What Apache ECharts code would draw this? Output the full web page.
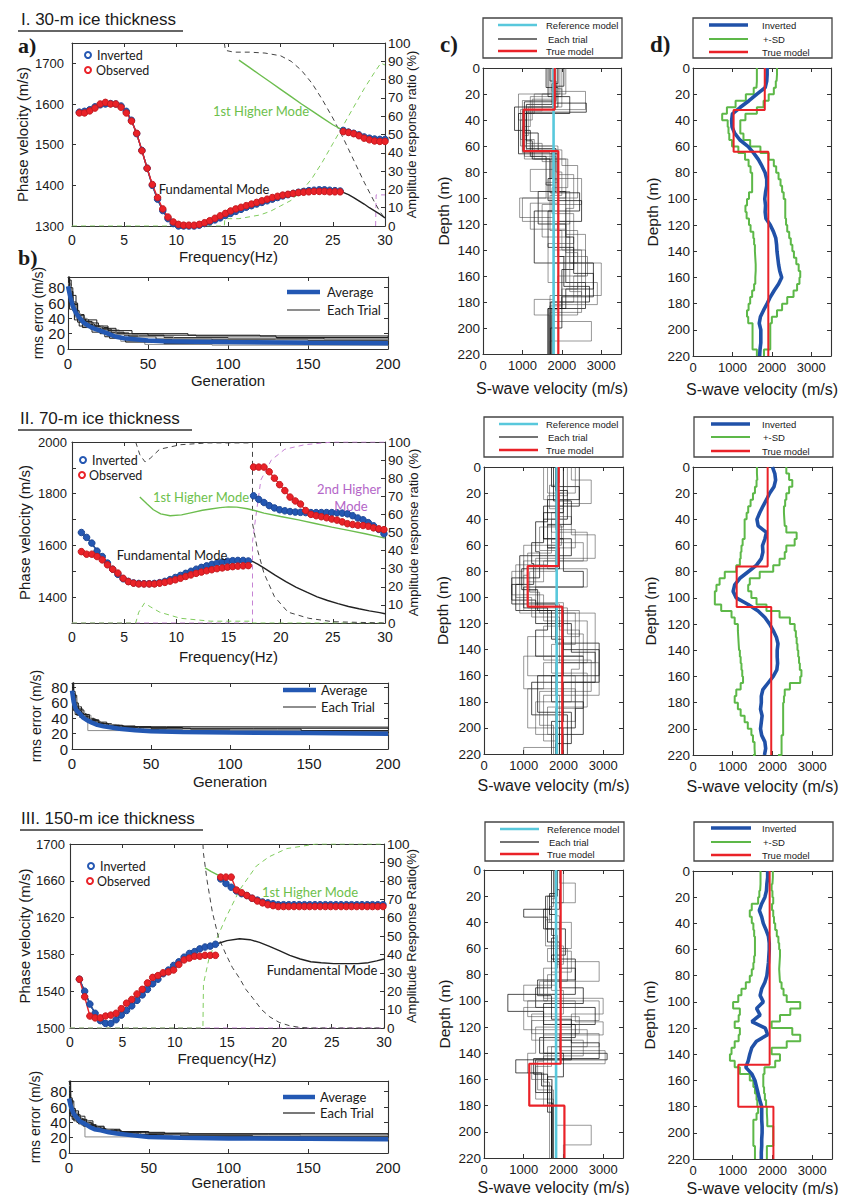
<!DOCTYPE html>
<html><head><meta charset="utf-8">
<script src="https://cdn.jsdelivr.net/npm/echarts@6/dist/echarts.min.js"></script>
<style>html,body{margin:0;padding:0;background:#fff}#c{width:848px;height:1195px}</style>
</head><body><div id="c"></div>
<script>
// ---------------- DATA ----------------
// Row I (30-m ice)
const freqI_F = [0.7,1.2,1.7,2.2,2.7,3.2,3.7,4.2,4.7,5.2,5.7,6.2,6.7,7.2,7.7,8.2,8.7,9.2,9.7,10.2,10.7,11.2,11.7,12.2,12.7,13.2,13.7,14.2,14.7,15.2,15.7,16.2,16.7,17.2,17.7,18.2,18.7,19.2,19.7,20.2,20.7,21.2,21.7,22.2,22.7,23.2,23.7,24.2,24.7,25.2,25.7];
const obsI_F = [1578,1578,1583,1590,1600,1604,1600,1600,1592,1578,1558,1528,1485,1442,1402,1370,1342,1322,1310,1304,1302,1302,1302,1304,1308,1313,1319,1325,1331,1337,1342,1346,1350,1354,1358,1362,1366,1370,1373,1376,1378,1380,1382,1383,1384,1385,1385,1385,1384,1384,1384];
const invI_F = [1580,1582,1586,1593,1598,1600,1601,1600,1595,1582,1560,1527,1486,1442,1400,1366,1338,1318,1306,1300,1300,1300,1300,1302,1306,1310,1315,1320,1326,1331,1336,1341,1346,1350,1354,1358,1362,1366,1370,1374,1377,1380,1383,1385,1387,1388,1389,1389,1388,1387,1386];
const freqI_H = [26.0,26.5,27.0,27.5,28.0,28.5,29.0,29.5,30.0];
const obsI_H = [1532,1530,1527,1522,1516,1512,1509,1508,1508];
const invI_H = [1535,1531,1528,1524,1519,1516,1514,1513,1513];
const fundI_ext = [[26.5,1377],[27,1370],[27.5,1362],[28,1354],[28.5,1345],[29,1337],[29.5,1329],[30,1320]];
const high1I = [[16,1708],[17,1690],[18,1672],[19,1654],[20,1636],[21,1618],[22,1600],[23,1583],[24,1566],[25,1549],[26,1535],[27,1528],[28,1519],[29,1514],[30,1513]];
const ampI_fund = [[14.6,100],[14.7,96],[15.5,95],[17,95],[18.5,94.5],[20,93],[21,90],[22,85],[23,78],[24,69],[25,59],[26,48],[27,36],[28,24],[29,13],[29.5,8],[30,4]];
const ampI_high1 = [[0,0],[14.6,0],[14.65,4],[16,4],[18,6],[19,8],[20,11],[21,14],[22,19],[23,26],[24,35],[25,45],[26,55],[27,65],[28,75],[29,84],[29.6,89],[30,88]];
const ampI_high2 = [[29.1,0],[29.15,17],[30,17]];
const rmsAvgI = [[0,82],[1,72],[2,63],[3,56],[5,47],[7,41],[10,34],[13,30],[16,27],[20,24],[25,20],[30,16],[35,14],[40,13],[50,11],[60,10],[80,9.5],[100,9],[150,8],[200,7.5]];
const rmsTrialsI = [
 [[0,92],[1,75],[3,60],[6,45],[10,38],[18,28],[25,22],[35,18],[60,15],[100,14],[160,13],[200,13]],
 [[0,85],[2,62],[5,40],[9,33],[14,30],[22,25],[32,14],[45,10],[70,8],[120,7],[200,6]],
 [[0,78],[1,60],[4,45],[8,36],[12,30],[20,20],[28,15],[40,12],[65,10],[110,9],[200,9]],
 [[0,90],[2,70],[5,50],[7,38],[13,32],[17,27],[30,20],[50,18],[80,17],[130,15],[200,15]],
 [[0,70],[2,55],[4,42],[10,35],[16,25],[24,18],[33,10],[48,6],[90,5],[200,4]],
 [[0,88],[1,68],[3,52],[6,40],[11,34],[19,26],[27,21],[38,16],[55,13],[90,12],[150,11],[200,10]],
 [[0,75],[3,50],[6,35],[9,28],[15,22],[23,16],[35,12],[52,9],[100,8],[200,7]],
 [[0,82],[2,58],[5,46],[8,40],[12,28],[21,24],[30,19],[44,16],[66,14],[130,12],[200,11]],
 [[0,65],[1,52],[4,38],[7,30],[14,26],[20,22],[26,14],[36,9],[60,7],[200,6]],
 [[0,95],[1,80],[3,58],[6,44],[10,36],[15,30],[25,24],[40,20],[75,18],[120,17],[200,16]]
];
const trialsI = [
 [[0,1900],[12,1750],[28,1100],[62,1850],[95,1400],[120,2100],[165,2600],[185,1750]],
 [[0,1750],[18,2600],[32,950],[55,1300],[70,2100],[100,930],[115,1800],[140,2500],[175,1700]],
 [[0,2000],[22,1200],[45,1000],[65,1700],[85,2500],[105,1500],[130,2200],[150,3000],[175,1800],[195,2750],[210,1700]],
 [[0,1600],[15,1900],[30,800],[48,1200],[68,1600],[90,1800],[110,1300],[140,1300],[150,2800],[170,2100],[185,1650]],
 [[0,1850],[25,1000],[60,1800],[78,1200],[95,2200],[120,1800],[145,2650],[160,2300],[180,1700]],
 [[0,2100],[20,900],[40,1100],[63,2000],[75,2400],[100,1900],[125,2000],[140,2600],[165,2400],[190,1750]],
 [[0,1700],[10,1850],[26,1050],[50,1400],[64,1750],[85,1650],[102,2500],[118,1900],[145,2050],[168,2700],[180,1720]],
 [[0,1950],[20,1300],[35,1050],[70,2150],[92,1750],[112,2300],[135,1650],[165,2900],[182,1800]],
 [[0,1800],[30,1100],[58,1500],[72,1900],[88,1600],[100,1000],[118,2200],[150,1800],[178,1300],[190,1680]],
 [[0,1650],[22,2200],[35,900],[66,1900],[95,2100],[130,2300],[155,2000],[185,1650]],
 [[0,1900],[16,2000],[30,1150],[52,1050],[68,1850],[80,2000],[98,1700],[125,2400],[150,2200],[172,2500],[188,1700]],
 [[0,1820],[24,1250],[40,950],[60,1900],[82,2300],[108,2100],[128,2600],[160,1900],[186,1720]],
 [[0,2050],[14,1800],[27,2620],[34,1100],[56,1250],[70,1700],[96,2450],[110,1650],[138,2300],[158,2800],[176,2000],[200,1710]],
 [[0,1700],[20,1500],[33,1000],[64,1800],[86,1900],[104,1200],[124,2100],[142,2400],[170,2000],[183,1690]]
];
const refI = 1790;
const trueI = [[0,1820],[32,1030],[64,1910]];
const depthD = [0,5,10,15,20,25,30,35,40,45,50,55,60,65,70,75,80,85,90,95,100,105,110,115,120,125,130,135,140,145,150,155,160,165,170,175,180,185,190,195,200,205,210,215,220];
const invD_I = [1880,1880,1870,1830,1620,1420,1200,1000,980,990,1060,1190,1400,1540,1660,1750,1830,1870,1870,1840,1820,1840,1830,1850,1960,2040,2100,2120,2130,2150,2170,2200,2250,2170,2060,1960,1880,1790,1710,1680,1720,1720,1720,1700,1690];
const sdLo_I = [1620,1620,1610,1540,1340,1080,860,740,880,900,920,990,1150,1320,1410,1460,1500,1500,1500,1420,1370,1330,1360,1420,1460,1530,1550,1570,1580,1590,1590,1580,1580,1550,1500,1450,1410,1370,1400,1510,1510,1510,1510,1620,1620];
const sdHi_I = [2130,2120,2100,2050,1920,1790,1620,1330,1200,1200,1280,1450,1710,1920,2050,2110,2170,2220,2260,2300,2340,2340,2340,2360,2390,2440,2480,2520,2560,2620,2680,2720,2700,2640,2550,2390,2260,2130,2000,1960,1960,1960,1960,1800,1800];

// Row II (70-m ice)
const freqII_F = [0.9,1.4,1.9,2.4,2.9,3.4,3.9,4.4,4.9,5.4,5.9,6.4,6.9,7.4,7.9,8.4,8.9,9.4,9.9,10.4,10.9,11.4,11.9,12.4,12.9,13.4,13.9,14.4,14.9,15.4,15.9,16.4,16.9];
const obsII_F = [1576,1566,1566,1557,1544,1525,1508,1493,1473,1460,1454,1451,1451,1451,1451,1454,1457,1462,1467,1473,1480,1486,1492,1497,1502,1506,1510,1513,1516,1518,1520,1521,1522];
const invII_F = [1650,1631,1609,1578,1557,1532,1508,1488,1471,1461,1455,1453,1452,1452,1453,1456,1461,1468,1476,1484,1492,1500,1508,1515,1521,1527,1532,1536,1539,1541,1542,1542,1540];
const freqII_H = [17.4,17.9,18.4,18.9,19.4,19.9,20.4,20.9,21.4,21.9,22.4,22.9,23.4,23.9,24.4,24.9,25.4,25.9,26.4,26.9,27.4,27.9,28.4,28.9,29.4,29.9];
const obsII_H = [1903,1903,1903,1885,1860,1835,1812,1787,1772,1760,1735,1720,1715,1711,1707,1702,1698,1691,1684,1681,1678,1677,1674,1668,1664,1661];
const invII_H = [1792,1778,1766,1754,1745,1738,1734,1731,1729,1728,1727,1727,1727,1727,1727,1727,1726,1725,1722,1715,1706,1699,1688,1676,1662,1645];
const fundII_ext = [[17.3,1538],[17.8,1528],[18.5,1510],[19.5,1484],[20.5,1460],[21.5,1438],[22.5,1419],[23.5,1401],[24.5,1387],[25.5,1375],[26.5,1364],[27.5,1355],[28.5,1347],[29.5,1340],[30,1336]];
const high1II = [[6.5,1787],[7.2,1760],[7.8,1738],[8.5,1722],[9.4,1715],[10.5,1718],[11.6,1728],[12.5,1736],[13.3,1741],[14.2,1746],[15,1749],[15.8,1748],[16.8,1742],[17.5,1735],[18.4,1725],[20,1712],[21.7,1699],[23.3,1685],[24.9,1671],[26.5,1658],[28.1,1645],[30,1628]];
const ampII_fund = [[6.1,100],[6.5,93],[7,89],[7.5,91],[8.4,96],[10.4,98.5],[13,99.5],[17.3,99.5],[17.3,55],[17.8,40],[18.4,27.5],[19.4,14.6],[20.7,6],[22.7,2.6],[25,0.7],[30,0]];
const ampII_high1 = [[0,0],[6.1,0],[6.4,6],[6.95,11],[7.5,9],[8.4,6],[10.4,2.6],[13.3,1],[17.3,1],[17.3,0],[30,0]];
const ampII_high2 = [[0,0],[17.3,0],[17.3,45],[17.6,58],[18.1,79],[19.1,90],[20.4,96],[22.3,98.5],[25,100],[30,100]];
const rmsAvgII = [[0,76],[1,62],[2,54],[3,50],[5,46],[7,41],[10,37],[13,34],[16,31.5],[20,29.5],[25,28],[30,26.5],[40,24.5],[50,23],[70,22],[100,21.5],[150,20.8],[200,20]];
const rmsTrialsII = [
 [[0,98],[1,70],[3,55],[6,45],[10,38],[16,33],[25,30],[40,28],[70,27],[115,27],[200,26]],
 [[0,60],[2,48],[5,42],[8,38],[10,24],[200,23]],
 [[0,85],[1,62],[3,52],[6,46],[9,40],[14,34],[20,31],[30,28],[45,25],[70,23],[120,22],[200,21]],
 [[0,72],[2,55],[4,47],[7,43],[11,38],[17,32],[24,28],[35,25],[55,22],[90,21],[150,20],[200,19]],
 [[0,90],[1,66],[3,56],[5,50],[8,44],[12,36],[18,32],[28,29],[42,27],[60,25],[100,24],[200,24]],
 [[0,55],[2,45],[5,41],[9,37],[13,33],[19,30],[27,27],[38,24],[52,22],[80,21],[200,20]],
 [[0,80],[1,58],[3,50],[6,43],[10,39],[15,35],[22,31],[32,29],[50,27],[75,26],[130,26],[145,24],[200,24]],
 [[0,66],[2,52],[4,45],[8,40],[12,35],[16,31],[26,26],[36,24],[48,22],[70,21],[200,18]],
 [[0,94],[1,75],[2,60],[4,52],[7,45],[11,37],[17,33],[23,30],[33,29],[60,28.5],[200,28]],
 [[0,62],[1,50],[3,44],[6,40],[9,36],[14,32],[20,29],[30,26],[44,23],[65,22],[200,21]]
];
const trialsII = [
 [[0,1700],[15,2400],[30,1500],[55,2200],[68,900],[90,800],[110,2000],[140,2900],[165,1200],[190,2100]],
 [[0,2100],[22,1600],[45,1900],[60,1000],[80,700],[98,1500],[118,2600],[150,1800],[175,1900],[200,1800]],
 [[0,1900],[12,1800],[38,2200],[52,2800],[70,1300],[95,1100],[108,2100],[128,2500],[145,1000],[170,2300],[195,1900]],
 [[0,2400],[25,1600],[42,1300],[65,1400],[85,700],[105,1800],[135,2900],[160,1700],[180,2500],[205,1850]],
 [[0,1600],[20,2000],[35,1700],[50,2600],[72,1000],[90,900],[112,2800],[150,1500],[170,1100],[200,2000]],
 [[0,2000],[30,1800],[48,2300],[62,1600],[78,2600],[92,1300],[105,1900],[125,2400],[155,2200],[180,1300],[205,1900]],
 [[0,1800],[18,2100],[40,1500],[58,1200],[74,1250],[90,700],[102,1300],[120,2200],[142,2800],[165,2000],[195,1700]],
 [[0,2200],[10,2700],[28,2000],[55,1700],[66,1100],[83,1000],[110,2400],[130,1100],[160,2300],[185,1800],[215,1000]],
 [[0,1500],[25,1900],[45,1950],[60,1600],[75,800],[100,1200],[115,1900],[150,2900],[175,1500],[210,1850]],
 [[0,2000],[35,1500],[55,2000],[80,2500],[92,1000],[108,1600],[125,1300],[145,2500],[185,2300],[200,1900]],
 [[0,1850],[14,1650],[32,2000],[46,1400],[64,1800],[80,1150],[96,1400],[112,2300],[136,1700],[158,2600],[184,1600],[205,2000]],
 [[0,2300],[20,1900],[40,1700],[58,2500],[72,1500],[88,1100],[104,2000],[122,1500],[148,2700],[172,1400],[198,1750]],
 [[0,1750],[26,2200],[44,1600],[62,1900],[78,950],[94,1350],[110,1700],[132,2000],[160,1350],[188,2200],[212,1800]]
];
const refII = 1830;
const trueII = [[0,1880],[76,1100],[107,1970]];
const invD_II = [2000,2060,2080,2040,1930,1850,1760,1680,1610,1640,1850,1810,1750,1760,1720,1600,1390,1180,1050,1010,1090,1390,1640,1810,1930,2020,2100,2140,2120,2120,2130,2110,2020,1890,1760,1720,1720,1700,1740,1720,1700,1730,1810,1830,1800];
const sdLo_II = [1610,1620,1600,1560,1510,1450,1390,1350,1300,1300,1300,1250,1220,1200,1180,1090,800,670,590,550,550,710,970,1050,1130,1140,1150,1160,1180,1200,1220,1240,1260,1200,1090,1050,1130,1200,1300,1380,1470,1510,1550,1560,1510];
const sdHi_II = [2350,2420,2500,2420,2350,2320,2290,2300,2310,2350,2610,2560,2350,2310,2180,2020,1680,1430,1390,1470,1600,1850,2180,2440,2560,2590,2610,2630,2650,2670,2690,2730,2700,2440,2310,2290,2270,2270,2270,2270,2270,2230,2230,2230,2140];

// Row III (150-m ice)
const freqIII_F = [0.9,1.4,1.9,2.4,2.9,3.4,3.9,4.4,4.9,5.4,5.9,6.4,6.9,7.4,7.9,8.4,8.9,9.4,9.9,10.4,10.9,11.4,11.9,12.4,12.9,13.4,13.9];
const obsIII_F = [1553,1534,1513,1511,1511,1513,1514,1516,1521,1527,1531,1537,1542,1549,1555,1557,1560,1561,1563,1569,1574,1576,1578,1578,1579,1579,1579];
const invIII_F = [1553,1540,1526,1516,1508,1505,1505,1509,1514,1519,1524,1530,1536,1542,1548,1553,1559,1563,1568,1572,1577,1581,1583,1586,1588,1589,1591];
const freqIII_H = [14.4,14.9,15.4,15.9,16.4,16.9,17.4,17.9,18.4,18.9,19.4,19.9,20.4,20.9,21.4,21.9,22.4,22.9,23.4,23.9,24.4,24.9,25.4,25.9,26.4,26.9,27.4,27.9,28.4,28.9,29.4,29.9];
const obsIII_H = [1664,1664,1664,1650,1647,1644,1641,1638,1636,1634,1633,1632,1632,1632,1632,1632,1632,1632,1632,1632,1632,1632,1632,1632,1632,1632,1632,1632,1632,1632,1632,1632];
const invIII_H = [1662,1657,1653,1649,1646,1644,1641,1639,1637,1636,1635,1634,1634,1634,1634,1634,1634,1634,1634,1634,1634,1634,1634,1634,1634,1634,1634,1634,1634,1634,1634,1634];
const fundIII_ext = [[15,1595],[16.2,1597],[17.2,1596],[18.1,1593],[19,1589],[20,1584],[21,1579],[22,1575],[23,1572],[24,1571],[25.2,1570],[26.5,1570],[27.5,1570],[28.5,1571],[29.3,1573],[30,1575]];
const high1III = [[12.9,1674],[13.5,1670],[14.2,1666],[14.4,1662],[14.9,1657],[15.4,1653],[15.9,1649],[16.4,1646],[16.9,1644],[17.4,1641],[17.9,1639],[18.4,1637],[18.9,1636],[19.9,1634],[30,1634]];
const ampIII_fund = [[12.7,100],[12.75,95],[13.1,80],[13.6,63],[14.2,49],[14.9,40],[15.5,33],[16.2,27],[16.8,21],[17.5,16],[18.3,10],[19.1,6],[20,3],[21,1.2],[22,0.3],[23,0],[30,0]];
const ampIII_high1 = [[0,0],[12.7,0],[12.75,24],[13.25,37],[13.9,47],[14.9,60],[16.2,75],[17.8,88],[19,93],[20.7,97.5],[23.5,100],[30,100]];
const ampIII_high2 = [[0,0],[30,0]];
const rmsAvgIII = [[0,71],[1,62],[2,56],[3,51],[5,46],[7,41],[10,38],[13,34],[16,31],[20,29.5],[25,27],[30,25.5],[40,23],[50,21],[70,20],[100,19],[150,18.5],[200,18]];
const rmsTrialsIII = [
 [[0,96],[1,68],[3,55],[6,48],[10,42],[15,35],[22,31],[32,28],[48,25],[70,23],[115,22],[200,22]],
 [[0,58],[2,45],[5,40],[8,36],[10,21],[200,20]],
 [[0,80],[1,60],[3,52],[6,45],[9,40],[14,34],[20,30],[30,27],[45,24],[70,21],[120,20],[200,19]],
 [[0,70],[2,55],[4,48],[7,43],[11,37],[17,31],[24,28],[35,24],[55,21],[90,19],[150,18],[200,17]],
 [[0,88],[1,64],[3,54],[5,48],[8,43],[12,36],[18,31],[28,28],[42,26],[60,24],[125,24],[145,22],[200,22]],
 [[0,52],[2,44],[5,40],[9,36],[13,32],[19,29],[27,26],[38,23],[52,21],[80,20],[200,19]],
 [[0,76],[1,57],[3,49],[6,43],[10,39],[15,34],[22,30],[32,28],[50,26],[75,25],[200,24]],
 [[0,64],[2,50],[4,44],[8,39],[12,34],[16,30],[26,25],[36,23],[48,21],[70,20],[200,17]],
 [[0,92],[1,72],[2,58],[4,50],[7,44],[11,36],[17,32],[23,29],[33,27],[60,25],[200,25]],
 [[0,60],[1,48],[3,42],[6,38],[9,35],[14,31],[20,28],[30,25],[44,22],[65,21],[200,20]]
];
const trialsIII = [
 [[0,1800],[15,1900],[30,1000],[36,1600],[55,1900],[75,2300],[95,600],[108,1500],[140,3100],[145,1300],[170,1700]],
 [[0,1750],[20,1600],[40,2200],[60,1600],[70,2900],[85,1500],[100,2900],[115,1200],[125,2900],[135,1600],[160,1700]],
 [[0,2000],[25,1700],[50,1850],[75,1500],[98,3000],[110,2200],[120,1300],[140,1100],[155,1500],[180,1800],[195,2700],[210,2000]],
 [[0,1700],[30,1500],[45,2050],[65,1700],[90,1300],[105,2800],[118,1800],[130,2200],[145,800],[155,1450],[165,1700]],
 [[0,1900],[10,2300],[25,1700],[50,1800],[80,1600],[100,1100],[112,2400],[125,1900],[138,3050],[148,1200],[160,1720]],
 [[0,1800],[35,1900],[60,2100],[85,1400],[95,1800],[105,1000],[122,2600],[135,1700],[150,1300],[175,1750]],
 [[0,1850],[20,1550],[45,1750],[70,1900],[90,2500],[102,1500],[118,2300],[128,1400],[140,2000],[158,1600],[185,1700]],
 [[0,1750],[28,1650],[40,1900],[62,2200],[78,1700],[92,2000],[110,1200],[130,2500],[142,1500],[162,1650]],
 [[0,1780],[22,1700],[38,1550],[58,2000],[72,1800],[88,1000],[100,2300],[116,3000],[126,1500],[146,1350],[168,1750]],
 [[0,1820],[18,1650],[34,1800],[52,1700],[68,2300],[84,1350],[96,1700],[114,2200],[132,2900],[144,1250],[156,1600],[178,1730]]
];
const refIII = 1815;
const trueIII = [[0,1930],[148,1140],[180,2025]];
const invD_III = [1880,1880,1860,1850,1810,1730,1670,1730,1770,1840,1900,1920,1920,1910,1900,1880,1860,1810,1730,1690,1770,1600,1690,1480,1820,1880,1600,1480,1430,1390,1330,1480,1560,1600,1640,1680,1730,1730,1730,1740,1740,1730,1730,1720,1720];
const sdLo_III = [1700,1700,1690,1670,1640,1480,1430,1480,1520,1540,1560,1560,1560,1540,1520,1480,1430,1330,1220,1140,1010,1180,1150,1050,1180,1150,1050,970,930,1050,1180,1430,1520,1560,1600,1620,1640,1600,1520,1520,1520,1520,1560,1560,1560];
const sdHi_III = [2010,2000,1980,2000,2020,1990,2020,2040,2070,2110,2150,2170,2190,2180,2170,2180,2190,2230,2280,2360,2700,2450,2190,1980,2500,2700,2360,1980,2190,2070,1800,1770,1770,1790,1810,1840,1860,1870,1870,2020,2020,2020,1860,1860,1860];

// ---------------- STYLE / LAYOUT ----------------
const FONT = 'Liberation Sans', LATO = 'Lato';
const AX = '#333', TXT = '#1a1a1a';
const C = {blue:'#2457b2', blueDk:'#1d4796', red:'#ea2228', redDk:'#c41a1f', green:'#6cbd4e', greenDash:'#80cc5e',
  mag:'#c682d4', magTxt:'#b466c8', cyan:'#58c8dc', sd:'#5db848', inv:'#2051a8', gray:'#555', avg:'#2358b3'};

const LAY = [
 { title:{text:'I. 30-m ice thickness', x:21, y:19, ul:[18,31,183]},
   a:{left:72, top:43, width:313, height:183, xGap:23, yGap:42, yMargin:8, rGap:20, rName:'Amplitude response ratio (%)'},
   b:{left:68, top:277, width:320, height:72, xGap:24, yGap:23, yMargin:3, ymax:94},
   c:{left:483, top:68, width:138, height:286, xGap:26, yGap:32},
   d:{left:693, top:68, width:138, height:288, xGap:25, yGap:33},
   legA:{inv:[88,55,97], obs:[88,70,96]},
   legB:{x1:287, x2:320, y1:292, y2:310, tx:327},
   legC:{box:[483,18,139,40], x1:498, x2:537, ys:[25,39,51], tx:546},
   legD:{box:[693,18,139,40], x1:709, x2:748, ys:[25,39,52], tx:762},
   modes:[{t:'1st Higher Mode', x:261, y:111, c:'green'}, {t:'Fundamental Mode', x:214, y:189, c:'black'}]
 },
 { title:{text:'II. 70-m ice thickness', x:20, y:418, ul:[18,430,192]},
   a:{left:72, top:442, width:313, height:181, xGap:26, yGap:40, yMargin:5, rGap:22, rName:'Amplitude response ratio (%)'},
   b:{left:72, top:683, width:316, height:66, xGap:25, yGap:29, yMargin:4, ymax:86},
   c:{left:484, top:467, width:139, height:287, xGap:23, yGap:34},
   d:{left:693, top:467, width:139, height:288, xGap:23, yGap:35},
   legA:{inv:[83,460,92], obs:[82,475,89]},
   legB:{x1:283, x2:316, y1:690, y2:707, tx:321},
   legC:{box:[484,417,139,40], x1:499, x2:538, ys:[424,437,450], tx:546},
   legD:{box:[694,417,139,40], x1:711, x2:750, ys:[424,437,451], tx:762},
   modes:[{t:'1st Higher Mode', x:201, y:497, c:'green'}, {t:'Fundamental Mode', x:172, y:555, c:'black'},
          {t:'2nd Higher', x:349, y:489, c:'mag'}, {t:'Mode', x:351, y:506, c:'mag'}]
 },
 { title:{text:'III. 150-m ice thickness', x:21, y:818, ul:[20,830,203]},
   a:{left:70, top:844, width:314, height:184, xGap:23, yGap:38, yMargin:5, rGap:21, rName:'Amplitude Response Ratio(%)'},
   b:{left:69, top:1081, width:319, height:72, xGap:22, yGap:27, yMargin:2, ymax:94},
   c:{left:484, top:870, width:139, height:288, xGap:21, yGap:32},
   d:{left:693, top:871, width:139, height:288, xGap:21, yGap:36},
   legA:{inv:[91,866,100], obs:[90,881,97]},
   legB:{x1:283, x2:315, y1:1097, y2:1113, tx:320},
   legC:{box:[485,822,139,39], x1:500, x2:539, ys:[829,842,854], tx:547},
   legD:{box:[694,822,139,39], x1:711, x2:751, ys:[828,842,855], tx:762},
   modes:[{t:'1st Higher Mode', x:310, y:892, c:'green'}, {t:'Fundamental Mode', x:322, y:970, c:'black'}]
 }
];

// ---------------- BUILD ----------------
const grid=[], xAxis=[], yAxis=[], series=[], graphic=[];
const pair = (xs, ys) => xs.map((x,i)=>[x, ys[i]]);
function G(p){ grid.push({left:p.left, top:p.top, width:p.width, height:p.height, containLabel:false, outerBoundsMode:'none', show:false}); return grid.length-1; }
function axis(gi, pos, min, max, interval, o){
  o = o || {};
  const a = {type:'value', gridIndex:gi, position:pos, min, max, interval, inverse:!!o.inverse, scale:false,
    axisLine:{show:true, onZero:false, lineStyle:{color:AX, width:1.1}},
    axisTick:{show:true, inside:true, length:4, lineStyle:{color:AX, width:1}},
    splitLine:{show:false}, minorTick:{show:false}, axisPointer:{show:false},
    axisLabel: o.label ? {show:true, color:TXT, fontFamily:FONT, fontSize:o.label.size||13, margin:(o.label.margin!=null?o.label.margin:6),
       showMaxLabel:o.label.showMax!==false, showMinLabel:true, hideOverlap:false,
       formatter: o.label.fmt || (v => String(v))} : {show:false}};
  if (o.name){ a.name=o.name; a.nameLocation='middle'; a.nameGap=o.gap; a.nameMoveOverlap=false;
    a.nameTextStyle={color:TXT, fontFamily:FONT, fontSize:o.nameSize||15}; }
  return a;
}
const addX = a => xAxis.push(a)-1, addY = a => yAxis.push(a)-1;
function line(xi, yi, data, ls, extra){ return Object.assign({type:'line', xAxisIndex:xi, yAxisIndex:yi, data, symbol:'none', lineStyle:ls, silent:true, z:2}, extra||{}); }
function markers(xi, yi, data, col, dk){ return {type:'line', xAxisIndex:xi, yAxisIndex:yi, data, symbol:'circle', symbolSize:6.5, showSymbol:true,
  itemStyle:{color:col, borderColor:dk, borderWidth:1}, lineStyle:{color:col, width:1.4}, silent:true, z:5}; }
const layered = m => m.map(([d,v])=>[v,d]).concat([[m[m.length-1][1], 220]]);

function panelA(p, D){
  const gi = G(p);
  const xb = addX(axis(gi,'bottom',0,30,5,{label:{size:14, margin:7}, name:'Frequency(Hz)', gap:p.xGap}));
  addX(axis(gi,'top',0,30,5,{}));
  const yl = addY(axis(gi,'left',D.ymin,D.ymax,D.yint,{label:{size:13, margin:p.yMargin, showMax:D.showMax, fmt:D.fmt}, name:'Phase velocity (m/s)', gap:p.yGap}));
  const yr = addY(axis(gi,'right',0,100,10,{label:{size:13.5, margin:3}, name:p.rName, gap:p.rGap, nameSize:13}));
  const dash = (data,color)=>line(xb,yr,data,{color, width:1, type:[5,4]},{z:1});
  series.push(dash(D.amp2, C.mag));
  series.push(dash(D.amp1, C.greenDash));
  series.push(dash(D.amp0, '#444'));
  series.push(line(xb,yl,pair(D.fF,D.iF).concat(D.fundExt),{color:'#222', width:1.4}));
  series.push(line(xb,yl,D.high1,{color:C.green, width:1.4}));
  series.push(markers(xb,yl,pair(D.fF,D.iF),C.blue,C.blueDk));
  series.push(markers(xb,yl,pair(D.fH,D.iH),C.blue,C.blueDk));
  series.push(markers(xb,yl,pair(D.fF,D.oF),C.red,C.redDk));
  series.push(markers(xb,yl,pair(D.fH,D.oH),C.red,C.redDk));
}
function panelB(p, avg, trials){
  const gi = G(p);
  const xb = addX(axis(gi,'bottom',0,200,50,{label:{size:15, margin:7}, name:'Generation', gap:p.xGap, nameSize:15}));
  addX(axis(gi,'top',0,200,50,{}));
  const yl = addY(axis(gi,'left',0,p.ymax,20,{label:{size:15, margin:p.yMargin, showMax:false}, name:'rms error (m/s)', gap:p.yGap, nameSize:14}));
  addY(axis(gi,'right',0,p.ymax,20,{}));
  trials.forEach((t,i)=>series.push(line(xb,yl,t,{color:(i%3===1)?'#8c8c8c':'#1e1e1e', width:1},{step:'end'})));
  series.push(line(xb,yl,avg,{color:C.avg, width:4.5},{z:4}));
}
function depthAxes(p){
  const gi = G(p);
  const xb = addX(axis(gi,'bottom',0,3500,1000,{label:{size:13, margin:5, showMax:false}, name:'S-wave velocity (m/s)', gap:p.xGap, nameSize:16}));
  addX(axis(gi,'top',0,3500,1000,{}));
  const yl = addY(axis(gi,'left',0,220,20,{inverse:true, label:{size:13.5, margin:3}, name:'Depth (m)', gap:p.yGap, nameSize:15.5}));
  addY(axis(gi,'right',0,220,20,{inverse:true}));
  return [xb, yl];
}
function panelC(p, trials, ref, truth){
  const [xb, yl] = depthAxes(p);
  trials.forEach((t,i)=>series.push(line(xb,yl,layered(t),{color:(i%3===0)?'rgba(20,20,20,0.75)':'rgba(70,70,70,0.55)', width:1},{step:'start'})));
  series.push(line(xb,yl,[[ref,0],[ref,220]],{color:C.cyan, width:2.6},{z:4}));
  series.push(line(xb,yl,layered(truth),{color:C.red, width:2.2},{step:'start', z:5}));
}
function panelD(p, inv, lo, hi, truth){
  const [xb, yl] = depthAxes(p);
  series.push(line(xb,yl,pair(lo,depthD),{color:C.sd, width:2},{step:'start'}));
  series.push(line(xb,yl,pair(hi,depthD),{color:C.sd, width:2},{step:'start'}));
  series.push(line(xb,yl,pair(inv,depthD),{color:C.inv, width:3.6},{z:4}));
  series.push(line(xb,yl,layered(truth),{color:C.red, width:2},{step:'start', z:5}));
}

const ROWS = [
 {A:{ymin:1300,ymax:1750,yint:100,showMax:false, fF:freqI_F,oF:obsI_F,iF:invI_F,fH:freqI_H,oH:obsI_H,iH:invI_H,fundExt:fundI_ext,high1:high1I,amp0:ampI_fund,amp1:ampI_high1,amp2:ampI_high2},
  B:[rmsAvgI, rmsTrialsI], Ct:[trialsI, refI, trueI], Dd:[invD_I, sdLo_I, sdHi_I, trueI]},
 {A:{ymin:1300,ymax:2000,yint:100,showMax:true, fmt:v=>(v%200===0?String(v):''), fF:freqII_F,oF:obsII_F,iF:invII_F,fH:freqII_H,oH:obsII_H,iH:invII_H,fundExt:fundII_ext,high1:high1II,amp0:ampII_fund,amp1:ampII_high1,amp2:ampII_high2},
  B:[rmsAvgII, rmsTrialsII], Ct:[trialsII, refII, trueII], Dd:[invD_II, sdLo_II, sdHi_II, trueII]},
 {A:{ymin:1500,ymax:1700,yint:40,showMax:true, fF:freqIII_F,oF:obsIII_F,iF:invIII_F,fH:freqIII_H,oH:obsIII_H,iH:invIII_H,fundExt:fundIII_ext,high1:high1III,amp0:ampIII_fund,amp1:ampIII_high1,amp2:ampIII_high2},
  B:[rmsAvgIII, rmsTrialsIII], Ct:[trialsIII, refIII, trueIII], Dd:[invD_III, sdLo_III, sdHi_III, trueIII]}
];

function T(text, x, y, font, fill, align){ graphic.push({type:'text', x, y, silent:true, z:100,
  style:{text, font, fill:fill||TXT, textAlign:align||'left', textVerticalAlign:'middle', align:align||'left', verticalAlign:'middle'}}); }
function Ln(x1,y1,x2,y2,stroke,w){ graphic.push({type:'line', silent:true, z:100, shape:{x1,y1,x2,y2}, style:{stroke, lineWidth:w}}); }
function Box(x,y,w,h){ graphic.push({type:'rect', silent:true, z:100, shape:{x,y,width:w,height:h}, style:{fill:'#fff', stroke:'#444', lineWidth:1.3}}); }
function Dot(cx,cy,col){ graphic.push({type:'circle', silent:true, z:101, shape:{cx,cy,r:3}, style:{fill:'#fff', stroke:col, lineWidth:2}}); }

LAY.forEach((L,ri)=>{
  const R = ROWS[ri];
  panelA(L.a, R.A);
  panelB(L.b, R.B[0], R.B[1]);
  panelC(L.c, R.Ct[0], R.Ct[1], R.Ct[2]);
  panelD(L.d, R.Dd[0], R.Dd[1], R.Dd[2], R.Dd[3]);
  T(L.title.text, L.title.x, L.title.y, "17px 'Liberation Sans'");
  Ln(L.title.ul[0], L.title.ul[1], L.title.ul[2], L.title.ul[1], '#333', 1.5);
  Dot(L.legA.inv[0], L.legA.inv[1], C.blue); T('Inverted', L.legA.inv[2], L.legA.inv[1], "12.5px 'Lato'");
  Dot(L.legA.obs[0], L.legA.obs[1], C.red); T('Observed', L.legA.obs[2], L.legA.obs[1], "12.5px 'Lato'");
  Ln(L.legB.x1, L.legB.y1, L.legB.x2, L.legB.y1, C.avg, 4.5); T('Average', L.legB.tx, L.legB.y1, "13px 'Lato'");
  Ln(L.legB.x1, L.legB.y2, L.legB.x2, L.legB.y2, '#1e1e1e', 1.2); T('Each Trial', L.legB.tx, L.legB.y2, "13px 'Lato'");
  const lc = L.legC; Box(...lc.box);
  Ln(lc.x1, lc.ys[0], lc.x2, lc.ys[0], C.cyan, 2.6); T('Reference model', lc.tx, lc.ys[0], "9.5px 'Liberation Sans'");
  Ln(lc.x1, lc.ys[1], lc.x2, lc.ys[1], '#444', 1.5); T('Each trial', lc.tx+2, lc.ys[1], "9.5px 'Liberation Sans'");
  Ln(lc.x1, lc.ys[2], lc.x2, lc.ys[2], C.red, 2.6); T('True model', lc.tx, lc.ys[2], "9.5px 'Liberation Sans'");
  const ld = L.legD; Box(...ld.box);
  Ln(ld.x1, ld.ys[0], ld.x2, ld.ys[0], C.inv, 3.6); T('Inverted', ld.tx, ld.ys[0], "9.5px 'Liberation Sans'");
  Ln(ld.x1, ld.ys[1], ld.x2, ld.ys[1], C.sd, 2.2); T('+-SD', ld.tx+1, ld.ys[1], "9.5px 'Liberation Sans'");
  Ln(ld.x1, ld.ys[2], ld.x2, ld.ys[2], C.red, 2.6); T('True model', ld.tx, ld.ys[2], "9.5px 'Liberation Sans'");
  L.modes.forEach(m=>T(m.t, m.x, m.y, "13px 'Lato'", m.c==='green'?'#6dbf4c':(m.c==='mag'?C.magTxt:'#1a1a1a'), 'center'));
});
T('a)', 18, 45, "bold 22px 'Liberation Serif'");
T('b)', 18, 257, "bold 22px 'Liberation Serif'");
T('c)', 440, 44, "bold 23px 'Liberation Serif'");
T('d)', 650, 44, "bold 23px 'Liberation Serif'");

const chart = echarts.init(document.getElementById('c'), null, {renderer:'svg', width:848, height:1195});
chart.setOption({animation:false, backgroundColor:'#fff', grid, xAxis, yAxis, series, graphic:{elements:graphic}, tooltip:{show:false}});
</script></body></html>
